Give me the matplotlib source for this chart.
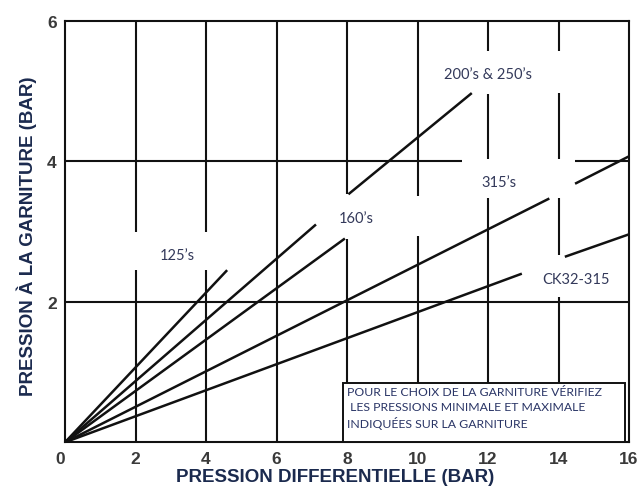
import matplotlib
matplotlib.use("Agg")
import matplotlib.pyplot as plt
from matplotlib.patches import Rectangle

# ---------------- data ----------------
# each series: list of straight segments (x0, y0, x1, y1) in bar
labels = ["125\u2019s", "160\u2019s", "200\u2019s & 250\u2019s", "315\u2019s", "CK32-315"]
seg_125 = [(0, 0, 4.60, 2.45)]
seg_160 = [(0, 0, 7.12, 3.10), (8.04, 3.53, 11.54, 4.97)]
seg_200 = [(0, 0, 7.94, 2.90)]
seg_315 = [(0, 0, 13.74, 3.47), (14.47, 3.68, 16.0, 4.07)]
seg_ck = [(0, 0, 12.96, 2.40), (14.18, 2.64, 16.0, 2.96)]
label_pos = [(3.2, 2.67), (8.25, 3.19), (12.0, 5.24), (12.3, 3.70), (14.5, 2.32)]

xticks = [0, 2, 4, 6, 8, 10, 12, 14, 16]
yticks = [2, 4, 6]

# grid lines are drawn in pieces (gaps left around the labels)
vgrid = {2: [(0, 2.45), (3.0, 6)],
         4: [(0, 2.45), (3.0, 6)],
         6: [(0, 6)],
         8: [(0.85, 2.90), (3.53, 6)],
         10: [(0.85, 2.93), (3.50, 6)],
         12: [(0.85, 3.47), (4.03, 4.95), (5.57, 6)],
         14: [(0.85, 2.07), (2.66, 3.47), (4.03, 4.97), (5.57, 6)]}
hgrid = {2: [(0, 16)],
         4: [(0, 11.25), (14.47, 16)]}

note = ("POUR LE CHOIX DE LA GARNITURE V\u00c9RIFIEZ\n"
        " LES PRESSIONS MINIMALE ET MAXIMALE\n"
        "INDIQU\u00c9ES SUR LA GARNITURE")

INK = "#111111"
LAB = "#33395a"
AXL = "#1b2a4e"
TICK = "#3a3a3a"

fig = plt.figure(figsize=(6.41, 4.89), dpi=100)
ax = fig.add_axes([65 / 641, 45.7 / 489, 564 / 641, 421.6 / 489])
ax.set_xlim(0, 16)
ax.set_ylim(0, 6)

for x, parts in vgrid.items():
    for y0, y1 in parts:
        ax.plot([x, x], [y0, y1], color=INK, lw=1.5, solid_capstyle="butt", zorder=1)
for y, parts in hgrid.items():
    for x0, x1 in parts:
        ax.plot([x0, x1], [y, y], color=INK, lw=1.5, solid_capstyle="butt", zorder=1)

for segs in [seg_125, seg_160, seg_200, seg_315, seg_ck]:
    for x0, y0, x1, y1 in segs:
        ax.plot([x0, x1], [y0, y1], color=INK, lw=1.8, solid_capstyle="butt", zorder=2)

for lab, (lx, ly) in zip(labels, label_pos):
    ax.text(lx, ly, lab, fontsize=10.5, family="Lato", color=LAB,
            ha="center", va="center", zorder=3)

# note box in the lower right corner
ax.add_patch(Rectangle((7.9, 0), 8.0, 0.85, fc="white", ec=INK, lw=1.4, zorder=4))
ax.text(8.0, 0.80, note, fontsize=8.8, family="Lato", color="#2a3566",
        ha="left", va="top", linespacing=1.4, zorder=5)

for s in ax.spines.values():
    s.set_color(INK)
    s.set_linewidth(1.5)

ax.set_xticks(xticks)
ax.set_yticks(yticks)
ax.tick_params(length=0, pad=6, labelsize=12.5, labelcolor=TICK)
for t in ax.get_xticklabels() + ax.get_yticklabels():
    t.set_fontfamily("Liberation Sans")
    t.set_fontweight("bold")
ax.get_xticklabels()[0].set_horizontalalignment("right")

fig.text(335 / 641, 1 - 478 / 489, "PRESSION DIFFERENTIELLE (BAR)", fontsize=13.5,
         family="Liberation Sans", fontweight="bold", color=AXL, ha="center", va="center")
fig.text(27 / 641, 0.517, "PRESSION \u00c0 LA GARNITURE (BAR)", fontsize=13.5,
         family="Liberation Sans", fontweight="bold", color=AXL, ha="center", va="center",
         rotation=90)

fig.savefig("out.png", dpi=100)
